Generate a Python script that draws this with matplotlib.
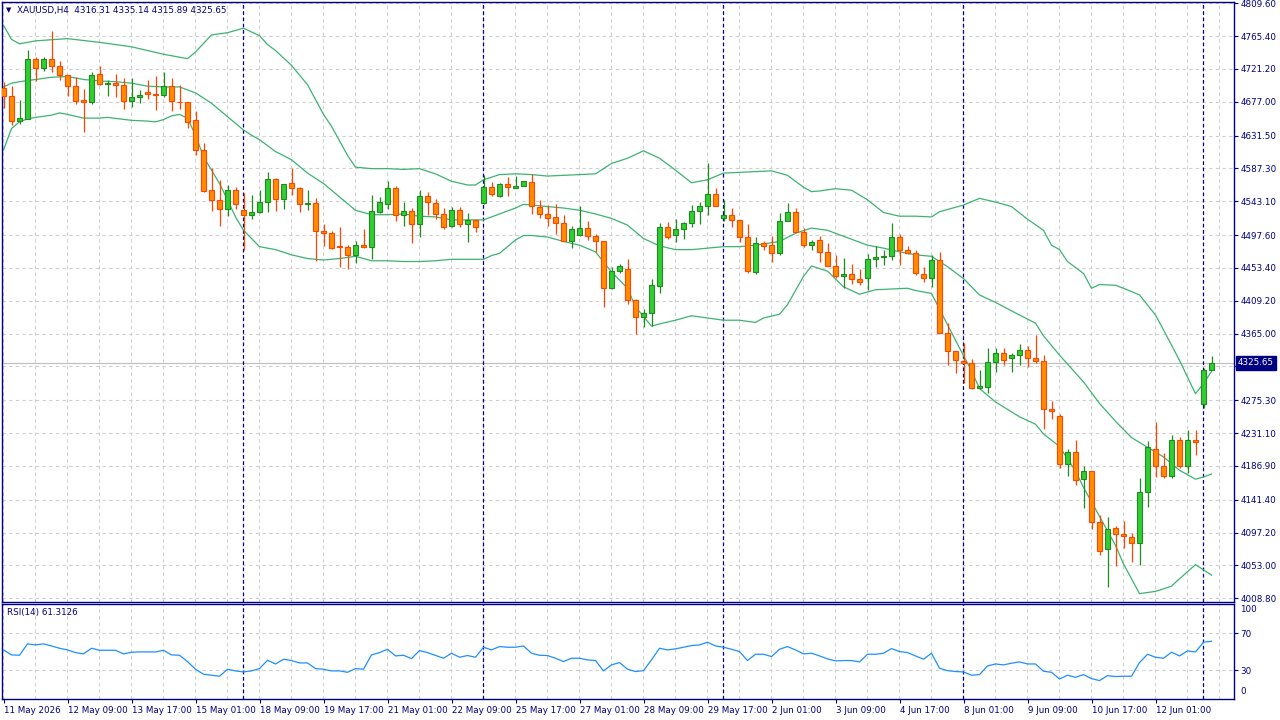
import matplotlib
matplotlib.use("Agg")
import matplotlib.pyplot as plt
import numpy as np

plt.rcParams['font.family'] = ['DejaVu Sans']

# ---------------- data ----------------
opens = [4696.0,4684.8,4650.7,4654.3,4734.2,4722.0,4734.2,4724.7,4712.6,4697.8,
         4679.4,4676.3,4714.4,4700.5,4702.3,4699.2,4677.6,4683.0,4690.2,4687.5,
         4686.6,4697.8,4677.2,4676.3,4652.5,4611.7,4557.8,4544.3,4532.2,4557.8,
         4530.9,4524.2,4528.2,4541.7,4572.6,4545.7,4567.2,4560.5,4538.8,4540.3,
         4503.1,4499.9,4482.4,4481.9,4471.2,4483.8,4482.0,4529.1,4539.0,4560.5,
         4525.1,4529.5,4512.0,4549.7,4540.3,4525.5,4509.3,4530.9,4512.0,4517.4,
         4541.2,4561.9,4550.7,4566.4,4561.4,4563.2,4568.6,4535.0,4525.5,4521.5,
         4513.4,4489.2,4497.3,4506.7,4495.9,4489.2,4425.9,4448.8,4451.5,4409.8,
         4386.9,4392.3,4428.6,4508.0,4497.3,4505.3,4513.4,4529.6,4536.3,4552.5,
         4521.1,4524.2,4517.5,4494.6,4447.5,4486.5,4483.8,4473.0,4516.1,4528.2,
         4501.3,4483.8,4490.5,4474.4,4455.5,4442.1,4444.8,4438.0,4439.4,4465.0,
         4467.7,4469.0,4494.6,4477.1,4473.0,4444.8,4439.4,4463.6,4365.4,4341.1,
         4327.7,4325.0,4291.3,4293.5,4326.3,4338.4,4331.6,4335.7,4342.4,4331.6,
         4327.6,4263.0,4253.6,4189.0,4205.1,4168.8,4179.5,4110.9,4074.5,4102.8,
         4094.8,4090.7,4082.6,4151.3,4209.1,4186.3,4172.8,4221.3,4186.3,4221.3,
         4269.7,4316.31]
highs = [4704.1,4698.3,4679.4,4746.7,4737.8,4737.8,4772.3,4731.9,4712.6,4709.9,
         4694.2,4717.5,4725.2,4706.3,4714.4,4708.6,4708.6,4692.9,4706.3,4711.7,
         4717.1,4708.6,4699.6,4676.3,4665.1,4621.1,4587.4,4571.7,4565.4,4562.7,
         4553.8,4551.5,4558.3,4582.0,4574.4,4565.9,4587.9,4562.3,4558.3,4547.5,
         4512.5,4502.6,4508.5,4484.7,4489.6,4505.8,4551.5,4549.3,4569.9,4563.6,
         4542.6,4533.6,4558.3,4556.0,4545.7,4533.6,4534.9,4534.9,4527.7,4519.7,
         4578.0,4569.0,4568.2,4575.8,4577.1,4570.0,4580.3,4544.4,4537.7,4539.0,
         4524.2,4509.4,4536.3,4516.6,4498.6,4489.2,4454.2,4458.7,4465.4,4411.1,
         4397.7,4438.0,4513.4,4515.2,4518.8,4514.8,4538.1,4541.7,4594.6,4560.5,
         4544.4,4533.6,4517.5,4512.5,4494.6,4489.6,4496.4,4527.3,4540.8,4534.1,
         4506.7,4490.5,4495.9,4486.5,4470.4,4466.3,4458.2,4451.5,4471.7,4482.5,
         4477.1,4513.9,4498.6,4482.5,4477.1,4454.2,4470.4,4474.4,4378.8,4341.1,
         4351.9,4330.3,4315.5,4345.1,4345.1,4345.1,4338.4,4350.9,4347.8,4363.1,
         4335.7,4273.8,4256.3,4209.2,4221.3,4186.3,4179.5,4120.3,4117.6,4105.5,
         4112.2,4096.1,4170.1,4219.9,4245.5,4203.8,4228.0,4225.3,4234.7,4234.7,
         4318.2,4335.14]
lows = [4668.2,4646.2,4647.6,4654.3,4705.4,4718.9,4717.5,4706.3,4684.8,4674.0,
        4636.8,4674.5,4699.2,4684.8,4683.9,4667.7,4670.4,4675.8,4680.8,4666.4,
        4683.9,4665.1,4667.7,4642.2,4605.8,4556.0,4530.0,4510.3,4523.7,4532.2,
        4477.5,4519.7,4527.7,4528.2,4530.4,4533.1,4552.0,4529.1,4531.3,4462.7,
        4482.9,4478.8,4455.1,4452.4,4460.4,4479.7,4465.8,4527.7,4533.1,4517.0,
        4510.2,4487.4,4495.4,4524.6,4519.7,4506.2,4508.9,4508.9,4488.7,4502.2,
        4539.9,4550.6,4549.3,4550.7,4560.5,4563.2,4526.4,4521.1,4510.3,4499.5,
        4489.2,4480.7,4496.8,4490.5,4474.4,4400.4,4424.6,4446.1,4405.3,4364.9,
        4373.4,4375.7,4420.1,4492.8,4487.8,4492.8,4508.0,4512.1,4524.2,4536.3,
        4516.1,4508.0,4487.9,4447.0,4445.7,4478.0,4461.8,4471.2,4516.1,4501.3,
        4481.1,4477.1,4460.9,4455.5,4439.4,4425.9,4431.3,4430.0,4423.2,4454.2,
        4456.9,4463.6,4456.9,4471.7,4443.4,4434.0,4427.3,4365.4,4322.3,4311.5,
        4299.0,4290.0,4290.0,4285.4,4313.7,4322.2,4312.8,4322.7,4320.4,4324.9,
        4236.1,4249.5,4183.6,4172.8,4160.7,4129.7,4101.5,4066.5,4023.4,4051.7,
        4075.9,4057.0,4053.0,4131.1,4171.5,4170.1,4170.1,4183.6,4176.8,4201.1,
        4264.3,4315.89]
closes = [4684.3,4650.7,4654.7,4734.2,4722.0,4734.2,4724.7,4712.6,4697.8,4678.5,
          4676.3,4712.6,4700.5,4702.7,4699.2,4677.6,4683.0,4685.7,4687.0,4686.6,
          4697.8,4677.6,4676.3,4649.3,4611.7,4557.4,4544.3,4532.2,4557.8,4539.0,
          4524.2,4528.2,4541.7,4572.6,4545.7,4565.9,4560.5,4539.0,4540.8,4502.6,
          4499.9,4480.6,4481.9,4471.2,4483.8,4481.5,4529.5,4541.7,4560.5,4525.1,
          4529.5,4512.0,4549.7,4541.7,4525.5,4508.9,4530.9,4512.0,4517.4,4508.0,
          4561.9,4552.4,4566.4,4561.9,4563.2,4570.0,4536.3,4525.5,4521.1,4513.4,
          4489.2,4505.3,4506.7,4495.9,4489.2,4425.9,4448.8,4455.5,4409.8,4386.9,
          4392.3,4430.0,4508.0,4494.6,4505.3,4513.4,4529.6,4536.3,4552.5,4536.3,
          4524.2,4517.5,4494.6,4448.8,4486.5,4483.4,4473.0,4516.1,4528.2,4501.3,
          4483.8,4487.9,4474.4,4455.5,4442.1,4444.8,4438.0,4434.0,4465.0,4467.7,
          4469.0,4494.6,4477.1,4473.0,4446.1,4439.4,4463.6,4365.4,4341.1,4329.0,
          4325.0,4291.3,4294.0,4326.3,4338.4,4328.9,4335.7,4342.4,4331.6,4327.6,
          4263.0,4260.3,4189.0,4205.1,4167.4,4179.5,4110.9,4071.8,4101.5,4094.8,
          4092.1,4082.6,4151.3,4211.8,4186.3,4172.8,4221.3,4186.3,4221.3,4218.6,
          4316.3,4325.65]

# Bollinger band readings (bar index, value)
upper_idx = [0,1,2,4,8,12,16,20,23,24,26,28,30,32,33,34,36,38,40,41,43,44,46,48,50,52,54,56,58,59,
             60,62,64,66,68,70,72,74,76,78,80,82,84,86,88,90,92,94,96,98,100,101,102,104,106,108,110,
             112,114,116,117,118,120,122,124,126,128,130,131,132,133,135,136,137,139,140,142,144,145,
             147,149,150,151]
upper_val = [4780,4761,4755,4759,4762,4757,4751,4741,4735,4744,4767,4770,4776,4766,4754,4746,4726,4700,
             4660,4644,4605,4589,4587,4587,4586,4587,4580,4570,4565,4565,4572,4579,4580,4579,4577,4578,
             4579,4580,4594,4601,4611,4601,4585,4568,4572,4581,4582,4583,4584,4578,4562,4556,4557,4560,
             4558,4545,4528,4523,4523,4522,4529,4532,4538,4547,4542,4536,4519,4504,4484,4478,4462,4446,
             4426,4431,4430,4426,4417,4390,4370,4329,4284,4298,4314]
mid_idx = [0,1,2,4,6,8,10,12,14,16,18,20,22,24,26,28,30,31,32,34,36,38,40,42,44,46,48,50,52,54,56,58,
           60,61,62,64,65,66,68,70,72,74,76,78,80,82,84,86,88,90,92,94,97,99,101,103,105,108,110,112,
           114,116,118,120,121,122,124,127,129,130,132,135,137,139,141,143,145,147,149,150,151]
mid_val = [4697,4702,4704,4707,4710,4711,4707,4705,4704,4702,4698,4697,4697,4689,4675,4657,4639,4632,
           4626,4610,4599,4581,4567,4549,4531,4525,4525,4526,4523,4522,4518,4518,4518,4522,4526,4534,
           4539,4538,4536,4534,4531,4526,4520,4511,4493,4483,4478,4478,4480,4482,4482,4484,4489,4500,
           4507,4504,4496,4484,4480,4475,4471,4469,4455,4439,4428,4417,4407,4390,4379,4362,4336,4300,
           4271,4247,4225,4212,4199,4181,4169,4172,4176]
lower_idx = [0,1,2,3,4,6,7,8,10,12,13,16,18,19,20,21,22,23,24,25,26,27,28,29,30,31,32,34,36,38,40,42,
             44,46,48,50,52,54,56,58,60,61,62,64,65,66,68,70,72,74,76,78,79,81,82,84,86,88,90,92,94,95,
             97,98,100,101,103,105,107,109,111,113,114,116,117,119,121,122,124,127,129,130,132,134,135,
             137,139,140,142,144,146,147,149,150,151]
lower_val = [4612,4641,4650,4654,4656,4659,4662,4660,4655,4655,4656,4652,4651,4650,4653,4658,4660,4655,
             4632,4603,4585,4567,4545,4522,4504,4493,4482,4478,4471,4466,4464,4466,4469,4463,4463,4462,
             4462,4463,4465,4465,4465,4470,4473,4491,4497,4497,4495,4489,4484,4475,4448,4426,4401,4375,
             4378,4383,4389,4386,4383,4383,4380,4386,4391,4404,4442,4456,4449,4428,4418,4424,4425,4426,
             4423,4419,4398,4356,4315,4291,4273,4253,4243,4230,4213,4180,4158,4119,4080,4055,4015,4018,
             4025,4035,4054,4047,4040]

rsi = [52.0,46.6,46.2,58.5,57.4,58.5,56.3,53.8,52.0,49.1,47.7,53.8,51.6,51.6,51.6,47.7,49.5,49.8,49.8,49.8,
       51.6,46.6,46.2,39.4,31.1,25.7,24.6,23.5,31.1,29.3,28.2,29.3,31.8,40.8,36.8,41.9,40.5,37.9,37.9,31.8,
       31.1,29.3,29.3,27.8,31.8,31.1,46.6,49.1,52.7,45.5,46.2,42.6,51.3,49.1,46.0,43.0,48.4,44.1,45.9,44.1,
       54.9,52.0,55.6,54.9,54.9,56.3,48.4,46.2,45.9,43.0,39.4,43.0,43.0,41.2,40.5,29.3,35.8,38.3,31.1,28.6,
       29.6,41.2,53.8,52.0,53.1,54.9,56.7,57.4,60.3,56.3,54.9,52.7,50.2,40.5,47.3,47.3,44.8,52.7,55.6,52.0,
       47.7,48.4,45.5,42.3,40.1,40.5,40.5,39.0,47.3,47.3,48.4,53.4,50.2,49.1,45.5,41.9,48.4,32.2,29.6,28.6,
       28.2,24.6,25.3,34.7,36.8,35.8,37.6,39.0,36.8,36.8,28.9,27.8,20.6,24.6,22.4,25.3,21.0,18.8,24.2,23.2,
       23.5,23.5,38.3,47.3,44.1,43.0,49.5,45.5,50.9,49.8,60.3,61.3126]

price_ticks = [4809.60,4765.40,4721.20,4677.00,4631.50,4587.30,4543.10,4497.60,4453.40,4409.20,
               4365.00,4320.80,4275.30,4231.10,4186.90,4141.40,4097.20,4053.00,4008.80]
time_labels = ["11 May 2026","12 May 09:00","13 May 17:00","15 May 01:00","18 May 09:00",
               "19 May 17:00","21 May 01:00","22 May 09:00","25 May 17:00","27 May 01:00",
               "28 May 09:00","29 May 17:00","2 Jun 01:00","3 Jun 09:00","4 Jun 17:00",
               "8 Jun 01:00","9 Jun 09:00","10 Jun 17:00","12 Jun 01:00"]
label_step = 8
separators = [30, 60, 90, 120, 150]
last_price = 4325.65
title_text = "XAUUSD,H4  4316.31 4335.14 4315.89 4325.65"
rsi_text = "RSI(14) 61.3126"

# ---------------- styling ----------------
NAVY = '#000080'
GRID = '#CFCFCF'
BULL_F, BULL_E = '#32CD32', '#1E8B1E'
BEAR_F, BEAR_E = '#FF8C00', '#FF4500'
BAND = '#3CB371'
RSI_C = '#1E90FF'
FS = 6.3

W, H = 1280, 720
fig = plt.figure(figsize=(W/100, H/100), dpi=100)
fig.patch.set_facecolor('white')

def rect(x0, y0, x1, y1):
    return [x0/W, 1-y1/H, (x1-x0)/W, (y1-y0)/H]

ax = fig.add_axes(rect(2.3, 1.7, 1233.5, 601.5))
rax = fig.add_axes(rect(2.3, 603.5, 1233.5, 699.0))

n = len(closes)
x = np.arange(n)
o = np.array(opens); h = np.array(highs); l = np.array(lows); c = np.array(closes)
bull = c >= o

XL = (-0.15, 153.75)
for a in (ax, rax):
    a.set_xlim(*XL)
    for s in a.spines.values():
        s.set_color(NAVY)
        s.set_linewidth(1.0)
    a.set_facecolor('white')

ax.set_ylim(4004.4, 4811.7)
rax.set_ylim(-1.1, 102.2)

# grids
for v in price_ticks:
    ax.axhline(v, color=GRID, lw=0.8, ls=(0, (3, 3)), zorder=0)
for a in (ax, rax):
    for gx in range(0, 154, 4):
        a.axvline(gx - 0.06, color=GRID, lw=0.8, ls=(0, (3, 3)), zorder=0)
for v in (70, 30):
    rax.axhline(v, color=GRID, lw=0.8, ls=(0, (3, 3)), zorder=0)

# current price line
ax.axhline(last_price, color='#C0C0C0', lw=0.9, zorder=0.5)

# separators
for sp in separators:
    for a in (ax, rax):
        a.axvline(sp - 0.06, color=NAVY, lw=0.9, ls=(0, (3, 2)), zorder=1)

# bands
ax.plot(upper_idx, upper_val, color=BAND, lw=0.9, zorder=2)
ax.plot(mid_idx, mid_val, color=BAND, lw=0.9, zorder=2)
ax.plot(lower_idx, lower_val, color=BAND, lw=0.9, zorder=2)

# candles
ax.vlines(x[bull], l[bull], h[bull], color=BULL_E, lw=0.9, zorder=3)
ax.vlines(x[~bull], l[~bull], h[~bull], color=BEAR_E, lw=0.9, zorder=3)
body_h = np.maximum(np.abs(c - o), 0.6)
body_b = np.minimum(o, c)
ax.bar(x[bull], body_h[bull], bottom=body_b[bull], width=0.6,
       color=BULL_F, edgecolor=BULL_E, linewidth=0.8, zorder=4)
ax.bar(x[~bull], body_h[~bull], bottom=body_b[~bull], width=0.6,
       color=BEAR_F, edgecolor=BEAR_E, linewidth=0.8, zorder=4)

# RSI
rax.plot(x, rsi, color=RSI_C, lw=0.9, zorder=3)

# price axis (the label under the last-price tag is hidden by it in the reference)
ax.yaxis.tick_right()
ax.set_yticks(price_ticks)
ax.set_yticklabels(["" if abs(v - last_price) < 10 else f"{v:.2f}" for v in price_ticks])
ax.tick_params(axis='y', direction='out', length=3, width=0.8, color=NAVY,
               labelcolor=NAVY, labelsize=FS, pad=2)
ax.set_xticks([])

# RSI axis
rax.yaxis.tick_right()
rax.set_yticks([70, 30])
rax.set_yticklabels(['70', '30'])
rax.tick_params(axis='y', direction='out', length=3, width=0.8, color=NAVY,
                labelcolor=NAVY, labelsize=FS, pad=2)
tick_pos = list(range(0, label_step * len(time_labels), label_step))
rax.set_xticks(tick_pos)
rax.set_xticklabels(time_labels)
rax.tick_params(axis='x', direction='out', length=3, width=0.8, color=NAVY,
                labelcolor=NAVY, labelsize=FS, pad=2)
for t in rax.get_xticklabels():
    t.set_horizontalalignment('left')

fig.text(1240/W, 1-610/H, '100', color=NAVY, fontsize=FS, va='center', ha='left')
fig.text(1240/W, 1-692/H, '0', color=NAVY, fontsize=FS, va='center', ha='left')

# last price tag
yfrac = ax.transData.transform((0, last_price))[1] / H
fig.text(1238/W, yfrac, f"{last_price:.2f}", color='white', fontsize=FS,
         va='center', ha='left', zorder=10,
         bbox=dict(facecolor=NAVY, edgecolor=NAVY, boxstyle='square,pad=0.25'))

# titles
fig.text(6/W, 1-10/H, '\u25BC', color=NAVY, fontsize=5, va='center', ha='left')
fig.text(17/W, 1-10/H, title_text, color=NAVY, fontsize=FS, va='center', ha='left')
fig.text(7/W, 1-612/H, rsi_text, color=NAVY, fontsize=FS, va='center', ha='left')

fig.savefig('out.png', dpi=100, facecolor='white')
